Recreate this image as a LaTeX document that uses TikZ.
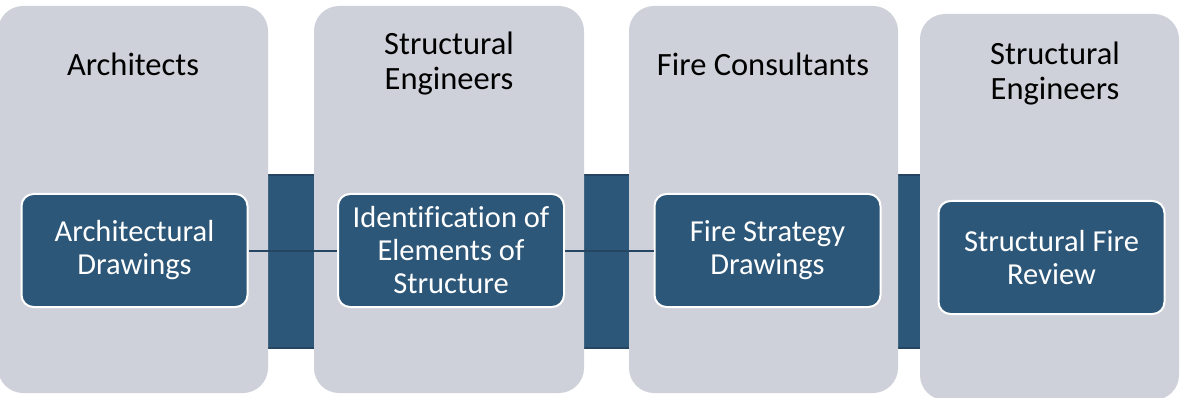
\documentclass[tikz,border=0pt]{standalone}
\usepackage{fontspec}
\setmainfont{Carlito}[Ligatures=NoCommon]
\usepackage{tikz}
\usetikzlibrary{positioning}
\definecolor{cLane}{RGB}{206,209,217}
\definecolor{cStep}{RGB}{45,87,120}
\definecolor{cEdge}{RGB}{36,70,99}
\tikzset{
	lane/.style     ={rectangle, rounded corners=25pt, fill=cLane, draw=none},
	lanetitle/.style={align=center, text=black, font=\fontsize{32.5}{35}\selectfont},
	stepbox/.style  ={rectangle, rounded corners=12pt, fill=cStep, draw=white, line width=2pt,
	                  minimum width=226pt, minimum height=113pt, align=center, text=white,
	                  font=\fontsize{30.5}{33}\selectfont},
	link/.style     ={draw=cEdge, line width=2pt},
}

\begin{document}
\begin{tikzpicture}[x=1pt, y=-1pt]
	\useasboundingbox (0,0) rectangle (1180,398);
	% band running behind the lanes
	\fill[cStep] (250,174) rectangle (930,349);
	\draw[cEdge, line width=2pt] (250,175) -- (930,175);
	\draw[cEdge, line width=2pt] (250,348) -- (930,348);
	% lanes
	\begin{scope}
		\clip (0,0) rectangle (1180,398);
		\node[lane, minimum width=270pt, minimum height=387pt] (l1) at (133,199.5) {};
		\node[lane, minimum width=270pt, minimum height=387pt] (l2) at (449,199.5) {};
		\node[lane, minimum width=269pt, minimum height=387pt] (l3) at (763.5,199.5) {};
		\node[lane, minimum width=259pt, minimum height=386pt] (l4) at (1049.5,207) {};
	\end{scope}
	\node[lanetitle] (t1) at (133,64) {Architects};
	\node[lanetitle] (t2) at (449,64) {Structural\\Engineers};
	\node[lanetitle] (t3) at (763,64) {Fire Consultants};
	\node[lanetitle] (t4) at (1055,74) {Structural\\Engineers};
	% steps
	\node[stepbox] (s1) at (134.5,250.5) {Architectural\\Drawings};
	\node[stepbox] (s2) at (451,250.5) {Identification of\\Elements of\\Structure};
	\node[stepbox] (s3) at (767.5,250.5) {Fire Strategy\\Drawings};
	\node[stepbox] (s4) at (1051.5,257.5) {Structural Fire\\Review};
	\draw[link] (s1) -- (s2);
	\draw[link] (s2) -- (s3);
\end{tikzpicture}
\end{document}
